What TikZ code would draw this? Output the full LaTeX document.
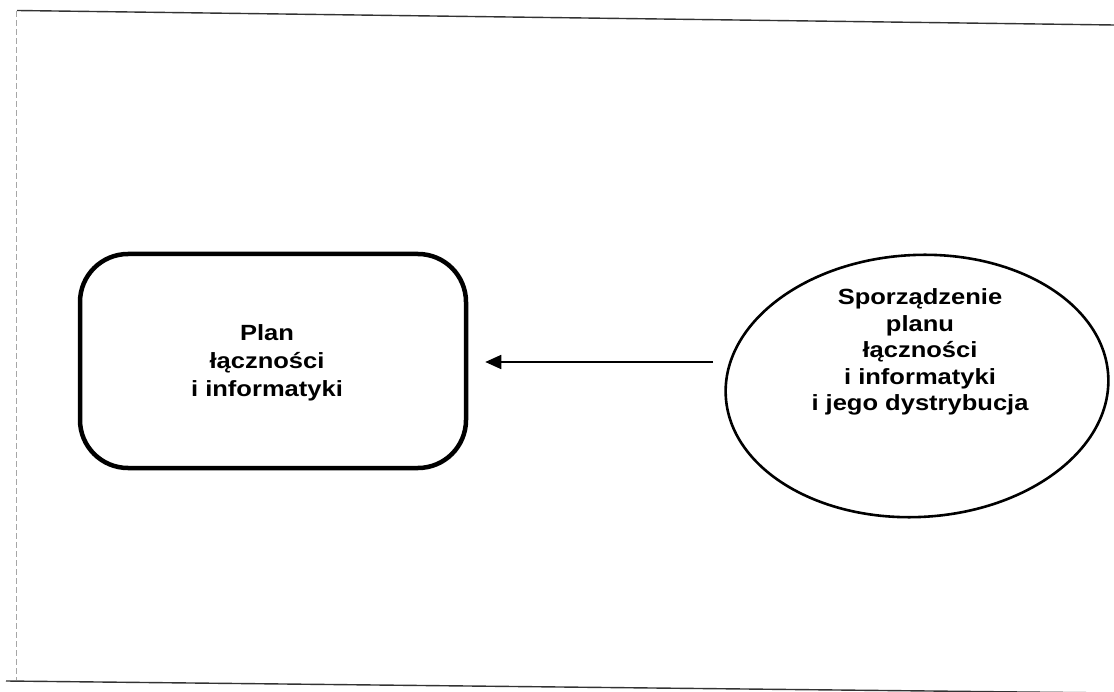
\documentclass[tikz,border=0pt]{standalone}
\usepackage{fontspec}
\setmainfont{Liberation Sans}[FakeStretch=1.16]
\usetikzlibrary{shapes.geometric,arrows.meta}
\begin{document}
\begin{tikzpicture}[x=1pt,y=-1pt,
  label text/.style={font=\fontsize{22}{28}\selectfont\bfseries, align=center, inner sep=0pt},
  oval text/.style={font=\fontsize{22}{26.5}\selectfont\bfseries, align=center, inner sep=0pt},
  planbox/.style={draw, line width=4.5pt, rounded corners=48pt, minimum width=386pt, minimum height=214pt, inner sep=0pt},
  taskoval/.style={ellipse, draw, line width=2.6pt, minimum width=383pt, minimum height=262pt, inner sep=0pt},
  flow/.style={line width=1.8pt, -{Triangle[length=16pt,width=14pt]}},
  frame/.style={line width=1.4pt, black!80}]
\useasboundingbox (0,0) rectangle (1114,692);

% page frame lines
\draw[frame] (17,10.5) -- (1114,25);
\draw[frame] (6,681) -- (1114,693);
\draw[black!35, line width=0.7pt, dash pattern=on 6pt off 3pt] (16,11) -- (16,680);

% nodes
\node[planbox] (plan) at (273,361) {};
\node[label text] (plantext) at (267,363) {Plan\\łączności\\i informatyki};

\node[taskoval, rotate=3] (task) at (917,386) {};
\node[oval text] (tasktext) at (920,352) {Sporządzenie\\planu\\łączności\\i informatyki\\i jego dystrybucja};

% connector
\coordinate (start) at (713,362);
\draw[flow, shorten >=17pt] (start) -- (plan.east |- start);
\end{tikzpicture}
\end{document}
